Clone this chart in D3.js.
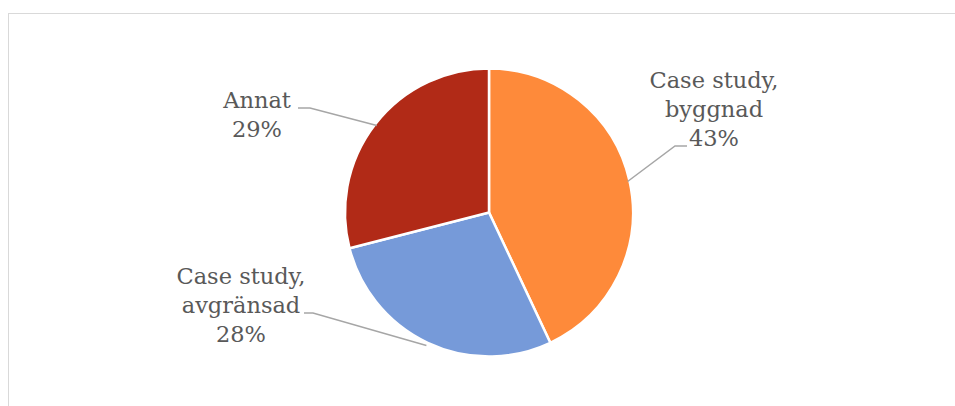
<!DOCTYPE html>
<html>
<head>
<meta charset="utf-8">
<script src="https://cdn.jsdelivr.net/npm/d3@7"></script>
<style>
  html, body { margin: 0; padding: 0; background: #fff; }
  svg { display: block; }
</style>
</head>
<body>
<div id="chart"></div>
<script>
  // data
  var categories = ['Case study, byggnad', 'Case study, avgränsad', 'Annat'];
  var labelLines = [['Case study,', 'byggnad'], ['Case study,', 'avgränsad'], ['Annat']];
  var shares = [43, 28, 29];
  var colors = ['#FE8A3A', '#769AD9', '#B12A17'];

  var width = 955, height = 406;
  var cx = 489, cy = 212.5, radius = 144;

  // label placement: text centre, first baseline, leader elbow
  var labelPos = [
    { x: 714, y: 88, elbowX: 675, elbowY: 146, endX: 687 },
    { x: 241, y: 284, elbowX: 313, elbowY: 313, endX: 304 },
    { x: 257, y: 108, elbowX: 310, elbowY: 108, endX: 298 }
  ];
  var lineH = 28.8;

  var svg = d3.select('#chart').append('svg')
    .attr('width', width).attr('height', height);

  // chart frame
  svg.append('rect')
    .attr('x', 8.5).attr('y', 13.5)
    .attr('width', 960).attr('height', 420)
    .attr('fill', 'none').attr('stroke', '#d9d9d9').attr('stroke-width', 1);

  var pie = d3.pie().sort(null).value(function (d) { return d; });
  var arcs = pie(shares);
  var arc = d3.arc().innerRadius(0).outerRadius(radius);

  var g = svg.append('g').attr('transform', 'translate(' + cx + ',' + cy + ')');

  g.selectAll('.slice')
    .data(arcs)
    .enter().append('path')
    .attr('class', 'slice')
    .attr('d', arc)
    .attr('fill', function (d, i) { return colors[i]; })
    .attr('stroke', '#fff')
    .attr('stroke-width', 2.5)
    .attr('stroke-linejoin', 'round');

  // leader lines from slice edge midpoints
  arcs.forEach(function (d, i) {
    var mid = (d.startAngle + d.endAngle) / 2;
    var r = i === 1 ? radius + 3 : radius - 2;
    var px = cx + Math.sin(mid) * r;
    var py = cy - Math.cos(mid) * r;
    var p = labelPos[i];
    svg.append('polyline')
      .attr('points', [[px, py], [p.elbowX, p.elbowY], [p.endX, p.elbowY]].map(function (q) { return q.join(','); }).join(' '))
      .attr('fill', 'none')
      .attr('stroke', '#a6a6a6')
      .attr('stroke-width', 1.5);

    var lines = labelLines[i].concat([Math.round(d.data) + '%']);
    var t = svg.append('text')
      .attr('text-anchor', 'middle')
      .attr('fill', '#595959')
      .style('font-family', '"DejaVu Serif", serif')
      .style('font-size', '22.5px');
    lines.forEach(function (s, k) {
      t.append('tspan').attr('x', p.x).attr('y', p.y + k * lineH).text(s);
    });
  });
</script>
</body>
</html>
